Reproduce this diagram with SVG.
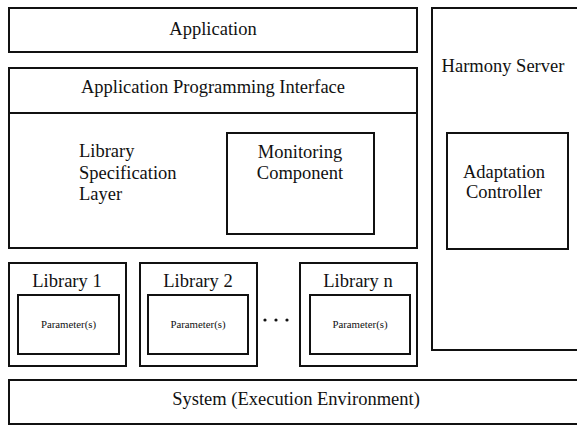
<svg xmlns="http://www.w3.org/2000/svg" width="577" height="425" viewBox="0 0 577 425">
  <style>
    rect { fill: #fff; stroke: #111; stroke-width: 2; }
    line { stroke: #111; stroke-width: 2; }
    text { font-family: "Liberation Serif", "Times New Roman", serif; font-size: 18.5px; fill: #111; }
    .c { text-anchor: middle; }
    .small { font-size: 10.8px; }
  </style>
  <rect width="577" height="425" style="stroke:none"/>

  <g id="application">
    <rect x="9" y="8" width="408" height="44"/>
    <text class="c" x="213" y="35">Application</text>
  </g>

  <g id="harmony-server">
    <rect x="432" y="8" width="150" height="342"/>
    <text class="c" x="503" y="72">Harmony Server</text>
  </g>

  <g id="adaptation-controller">
    <rect x="447" y="133" width="121" height="116"/>
    <text class="c" x="504" y="178">Adaptation</text>
    <text class="c" x="504" y="198">Controller</text>
  </g>

  <g id="library-specification-layer">
    <rect x="9" y="68" width="408" height="180"/>
    <text x="79" y="157">Library</text>
    <text x="79" y="179">Specification</text>
    <text x="79" y="200">Layer</text>
  </g>

  <g id="api">
    <line x1="9" y1="113" x2="417" y2="113"/>
    <text class="c" x="213" y="93">Application Programming Interface</text>
  </g>

  <g id="monitoring-component">
    <rect x="227" y="133" width="147" height="101"/>
    <text class="c" x="300" y="158">Monitoring</text>
    <text class="c" x="300" y="179">Component</text>
  </g>

  <g id="library-1">
    <rect x="9" y="263" width="117" height="103"/>
    <text class="c" x="67" y="287">Library 1</text>
    <rect x="18" y="295" width="101" height="59"/>
    <text class="c small" x="68.5" y="328">Parameter(s)</text>
  </g>

  <g id="library-2">
    <rect x="140" y="263" width="117" height="103"/>
    <text class="c" x="198" y="287">Library 2</text>
    <rect x="148" y="295" width="100" height="59"/>
    <text class="c small" x="198" y="328">Parameter(s)</text>
  </g>

  <g id="ellipsis">
    <circle cx="265" cy="320" r="1.6" fill="#111"/>
    <circle cx="276" cy="320" r="1.6" fill="#111"/>
    <circle cx="287" cy="320" r="1.6" fill="#111"/>
  </g>

  <g id="library-n">
    <rect x="300" y="263" width="117" height="103"/>
    <text class="c" x="358" y="287">Library n</text>
    <rect x="310" y="295" width="100" height="59"/>
    <text class="c small" x="360" y="328">Parameter(s)</text>
  </g>

  <g id="system">
    <rect x="9" y="380" width="573" height="44"/>
    <text class="c" x="296" y="405">System (Execution Environment)</text>
  </g>

  <g id="connectors"/>
</svg>
